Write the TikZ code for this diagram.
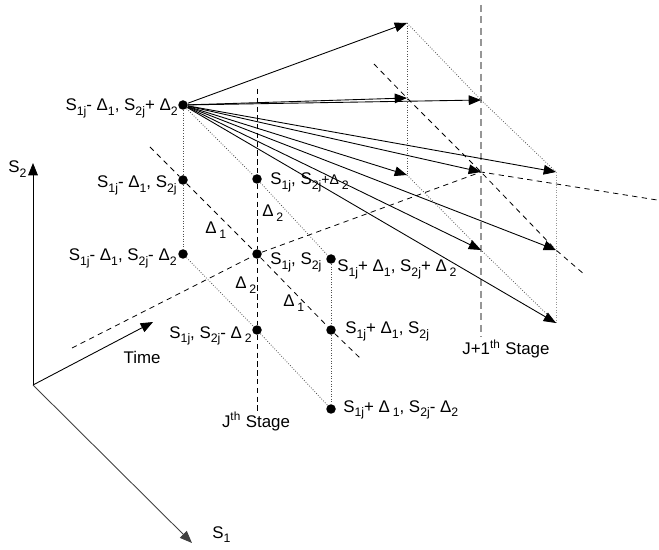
\documentclass[tikz,border=0pt]{standalone}
\usepackage{fontspec}
\setmainfont{Liberation Sans}
\usetikzlibrary{arrows.meta}
\definecolor{stGray}{RGB}{150,150,150}
\definecolor{stDot}{RGB}{80,80,80}
\newcommand{\lo}[1]{\raisebox{-0.5ex}{\fontsize{7}{8}\selectfont #1}}
\begin{document}
\begin{tikzpicture}[x=0.02cm,y=-0.02cm,
  every node/.style={font=\fontsize{9.6}{11}\selectfont},
  pnt/.style={circle,fill=black,inner sep=0pt,minimum size=0.19cm},
  lbl/.style={inner sep=0pt},
  linkdot/.style={densely dotted,draw=stDot,line width=0.45pt},
  linkdash/.style={dash pattern=on 3pt off 2.5pt,line width=0.45pt},
  stage/.style={dash pattern=on 3pt off 2pt,line width=0.45pt},
  stagenext/.style={dash pattern=on 4pt off 2.5pt,line width=1pt,draw=stGray},
  jump/.style={-{Triangle[length=7pt,width=5.5pt]},line width=0.5pt},
  axisline/.style={-{Triangle[length=7pt,width=5.5pt]},line width=0.5pt}
]
\useasboundingbox (0,0) rectangle (659,550);
% states of stage J (left, centre and right columns)
\node[pnt] (ltop) at (183,105) {};
\node[pnt] (lmid) at (183,180) {};
\node[pnt] (lbot) at (183,254) {};
\node[pnt] (mtop) at (257,179) {};
\node[pnt] (mmid) at (257,254) {};
\node[pnt] (mbot) at (257,330) {};
\node[pnt] (rtop) at (331,259) {};
\node[pnt] (rmid) at (331,330) {};
\node[pnt] (rbot) at (331,409) {};
% grid points of stage J+1
\coordinate (ntl) at (407,23);
\coordinate (ntm) at (481,100);
\coordinate (ntr) at (556,172);
\coordinate (nml) at (407,98);
\coordinate (nmm) at (481,172);
\coordinate (nmr) at (556,250);
\coordinate (nbl) at (407,175);
\coordinate (nbm) at (481,250);
\coordinate (nbr) at (556,323);
% free line ends
\coordinate (jtop) at (257,89);
\coordinate (jbot) at (257,412);
\coordinate (ktop) at (481,5);
\coordinate (kbot) at (481,337);
\coordinate (ls) at (150,147);
\coordinate (le) at (360,358);
\coordinate (ns) at (374,64);
\coordinate (ne) at (585,275);
\coordinate (ts) at (72,348);
\coordinate (tf) at (657,200);
% axes
\coordinate (o) at (33,385);
\coordinate (s2end) at (33,163);
\coordinate (s1end) at (192,543);
\coordinate (tend) at (153,322);
\draw[axisline] (o) -- (s2end);
\draw[axisline,draw=black!75] (o) -- (s1end);
\draw[axisline] (o) -- (tend);
% stage J grid
\draw[stage] (jtop) -- (mtop) -- (mmid) -- (mbot) -- (jbot);
\draw[linkdot] (ltop) -- (lmid) -- (lbot);
\draw[linkdot] (rtop) -- (rmid) -- (rbot);
\draw[linkdot] (ltop) -- (mtop) -- (rtop);
\draw[linkdot] (lbot) -- (mbot) -- (rbot);
\draw[linkdash] (ls) -- (lmid) -- (mmid) -- (rmid) -- (le);
% time line
\draw[linkdash] (ts) -- (mmid) -- (nmm) -- (tf);
% stage J+1 grid
\draw[stagenext] (ktop) -- (kbot);
\draw[linkdot] (ntl) -- (nbl);
\draw[linkdot,draw=stGray] (ntr) -- (nbr);
\draw[linkdot] (ntl) -- (ntm) -- (ntr);
\draw[linkdot] (nbl) -- (nbm) -- (nbr);
\draw[linkdash] (ns) -- (nml) -- (nmm) -- (nmr) -- (ne);
% moves out of one state
\draw[jump] (ltop) -- (ntl);
\draw[jump] (ltop) -- (nml);
\draw[jump] (ltop) -- (ntm);
\draw[jump] (ltop) -- (ntr);
\draw[jump] (ltop) -- (nmm);
\draw[jump] (ltop) -- (nbl);
\draw[jump] (ltop) -- (nbm);
\draw[jump] (ltop) -- (nmr);
\draw[jump] (ltop) -- (nbr);
% state labels
\node[lbl,anchor=base east] (altop) at (178,111) {S\lo{1j}-\ Δ\lo{1}, S\lo{2j}+ Δ\lo{2}};
\node[lbl,anchor=base east] (almid) at (177,188) {S\lo{1j}-\ Δ\lo{1}, S\lo{2j}};
\node[lbl,anchor=base east] (albot) at (177,261) {S\lo{1j}- Δ\lo{1}, S\lo{2j}-\ Δ\lo{2}};
\node[lbl,anchor=base west] (amtop) at (270,185) {S\lo{1j}, S\lo{2j}{\footnotesize+Δ}\,\lo{2}};
\node[lbl,anchor=base west] (ammid) at (270,265) {S\lo{1j}, S\lo{2j}};
\node[lbl,anchor=base east] (ambot) at (252,338) {S\lo{1j}, S\lo{2j}- Δ\,\lo{2}};
\node[lbl,anchor=base west] (artop) at (337,272) {S\lo{1j}+\ Δ\lo{1}, S\lo{2j}+\ Δ\,\lo{2}};
\node[lbl,anchor=base west] (armid) at (345,334) {S\lo{1j}+\ Δ\lo{1}, S\lo{2j}};
\node[lbl,anchor=base west] (arbot) at (343,412) {S\lo{1j}+ Δ\,\lo{1}, S\lo{2j}- Δ\lo{2}};
% step sizes
\node[lbl,anchor=base west] (d2a) at (262,217) {Δ\,\lo{2}};
\node[lbl,anchor=base west] (d1a) at (205,234) {Δ\,\lo{1}};
\node[lbl,anchor=base west] (d2b) at (235,289) {Δ\,\lo{2}};
\node[lbl,anchor=base west] (d1b) at (283,307) {Δ\,\lo{1}};
% axis and stage names
\node[lbl,anchor=base] (time) at (142,363) {Time};
\node[lbl,anchor=base] (jst) at (256,427) {J\textsuperscript{th} Stage};
\node[lbl,anchor=base west] (jnst) at (462,355) {J+1\textsuperscript{th} Stage};
\node[lbl,anchor=base west] (s2) at (8,173) {S\lo{2}};
\node[lbl,anchor=base west] (s1) at (212,538) {S\lo{1}};
\end{tikzpicture}
\end{document}
